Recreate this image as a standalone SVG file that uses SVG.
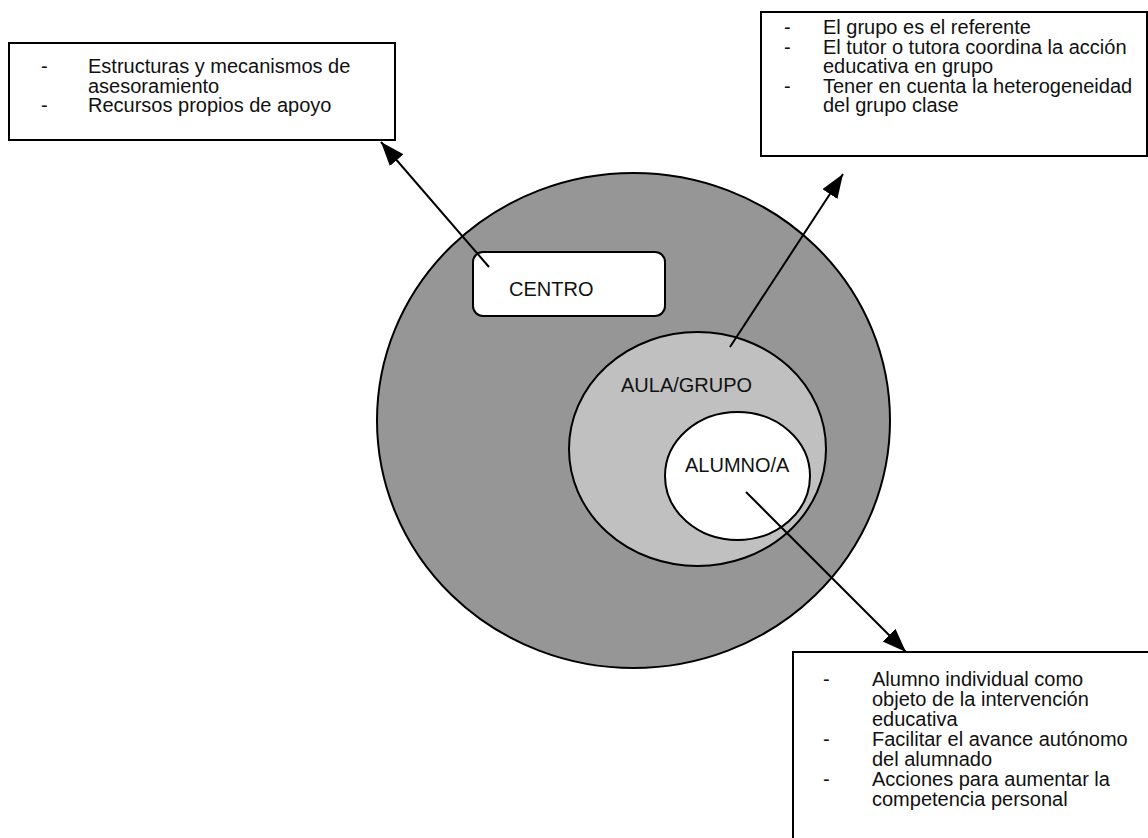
<svg xmlns="http://www.w3.org/2000/svg" width="1148" height="838" viewBox="0 0 1148 838">
<style>
text{font-family:"Liberation Sans",Arial,sans-serif;font-size:20px;fill:#111}
.box{fill:#fff;stroke:#000;stroke-width:2}
.ring{stroke:#000;stroke-width:2}
.conn{stroke:#000;stroke-width:2;fill:none;marker-end:url(#ah)}
</style>
<defs>
<marker id="ah" markerUnits="userSpaceOnUse" markerWidth="26" markerHeight="20" refX="24" refY="9" orient="auto">
<path d="M0,0 L24,9 L0,18 Z" fill="#000"/>
</marker>
</defs>
<rect width="1148" height="838" fill="#fff"/>
<g id="centro-circle">
<ellipse class="ring" cx="633.5" cy="420.5" rx="256.5" ry="247.5" fill="#969696"/>
</g>
<g id="centro">
<rect class="box" x="473" y="252" width="192" height="64" rx="10"/>
<text x="509" y="296">CENTRO</text>
</g>
<g id="aula">
<ellipse class="ring" cx="697.5" cy="449" rx="128.5" ry="117" fill="#c0c0c0"/>
<text x="621" y="392">AULA/GRUPO</text>
</g>
<g id="alumno">
<ellipse class="ring" cx="737.5" cy="476" rx="72.5" ry="64" fill="#fff"/>
<text x="685" y="472">ALUMNO/A</text>
</g>
<g id="box-centro">
<rect class="box" x="9" y="43" width="386" height="97"/>
<text x="41" y="73">-</text><text x="88" y="73">Estructuras y mecanismos de</text>
<text x="88" y="92.5">asesoramiento</text>
<text x="41" y="112">-</text><text x="88" y="112">Recursos propios de apoyo</text>
</g>
<g id="box-aula">
<rect class="box" x="761" y="12" width="386" height="144"/>
<text x="784" y="34">-</text><text x="823" y="34">El grupo es el referente</text>
<text x="784" y="53.5">-</text><text x="823" y="53.5">El tutor o tutora coordina la acción</text>
<text x="823" y="73">educativa en grupo</text>
<text x="784" y="92.5">-</text><text x="823" y="92.5">Tener en cuenta la heterogeneidad</text>
<text x="823" y="112">del grupo clase</text>
</g>
<g id="box-alumno">
<rect class="box" x="793" y="652" width="370" height="200"/>
<text x="823" y="686">-</text><text x="872" y="686">Alumno individual como</text>
<text x="872" y="706">objeto de la intervención</text>
<text x="872" y="726">educativa</text>
<text x="823" y="746">-</text><text x="872" y="746">Facilitar el avance autónomo</text>
<text x="872" y="766">del alumnado</text>
<text x="823" y="786">-</text><text x="872" y="786">Acciones para aumentar la</text>
<text x="872" y="806">competencia personal</text>
</g>
<g id="connectors">
<line class="conn" x1="489" y1="267" x2="381" y2="142"/>
<line class="conn" x1="730" y1="347" x2="843" y2="174"/>
<line class="conn" x1="746" y1="492" x2="906" y2="652"/>
</g>
</svg>
